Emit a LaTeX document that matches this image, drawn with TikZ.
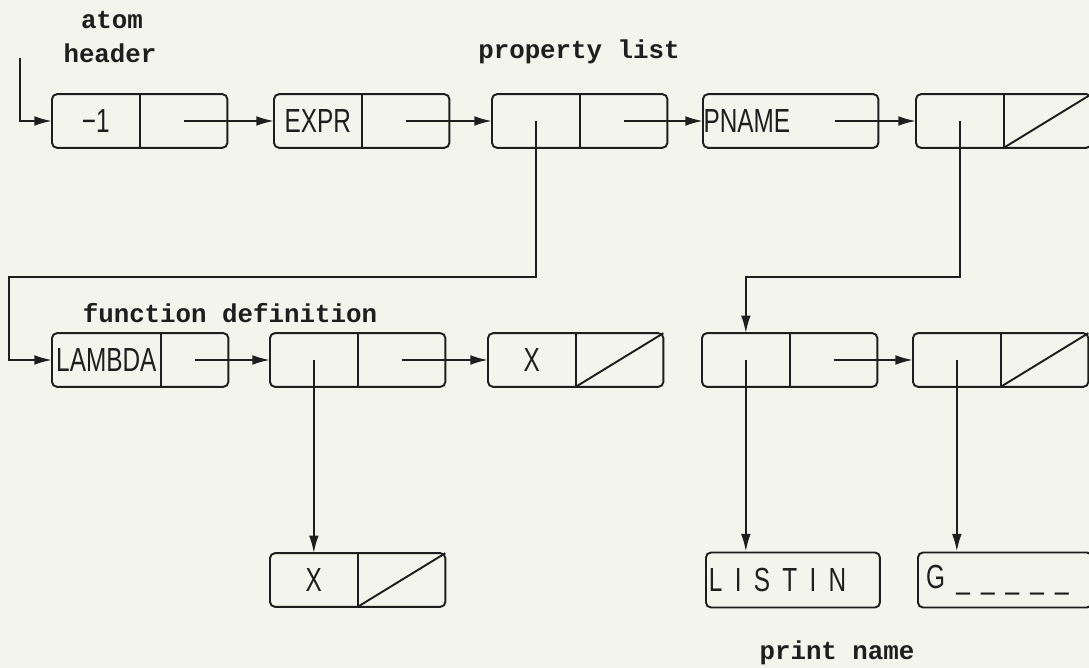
\documentclass[tikz,border=0pt]{standalone}
\usepackage{fontspec}
\usepackage{xcolor}
\usetikzlibrary{arrows.meta,positioning}

\newfontfamily\cellfont[FakeStretch=0.73]{Liberation Sans}
\newfontfamily\tagfont{Liberation Mono}
\definecolor{paper}{RGB}{243,244,235}
\definecolor{ink}{RGB}{30,30,30}

\tikzset{
  car/.style={minimum width=1.74cm, minimum height=1.06cm, inner sep=0pt,
    text=ink, font={\cellfont\fontsize{19}{19}\selectfont}},
  cell/.style={draw=ink, line width=1.1pt, rounded corners=0.1cm},
  word/.style={draw=ink, line width=1.1pt, rounded corners=0.1cm,
    minimum height=1.1cm, text width=3.36cm, inner xsep=0.06cm, align=left,
    text=ink, font={\cellfont\fontsize{19}{19}\selectfont}},
  ptr/.style={draw=ink, line width=1.1pt, -{Latex[length=10pt,width=5.5pt]}},
  tag/.style={text=ink, font={\tagfont\bfseries\fontsize{14.7}{16}\selectfont}}
}

\begin{document}
\begin{tikzpicture}[x=0.02cm, y=-0.02cm]
  \clip (0,0) rectangle (1089,668);
  \fill[paper] (0,0) rectangle (1089,668);

  % labels
  \node[tag] (atomlbl) at (112,20) {atom};
  \node[tag] (hdrlbl) at (110,53) {header};
  \node[tag] (proplbl) at (579,52) {property list};
  \node[tag] (funlbl) at (230,313) {function definition};
  \node[tag] (printlbl) at (837,653) {print name};

  % atom row
  \node[car, anchor=west] (a1) at (52,121) {−1};
  \node[car, right=0pt of a1] (d1) {};
  \node[car, anchor=west] (a2) at (274,121) {EXPR};
  \node[car, right=0pt of a2] (d2) {};
  \node[car, anchor=west] (a3) at (492,121) {};
  \node[car, right=0pt of a3] (d3) {};
  \node[car, anchor=west] (a4) at (703,121) {PNAME};
  \node[car, right=0pt of a4] (d4) {};
  \node[car, anchor=west] (a5) at (916,121) {};
  \node[car, right=0pt of a5] (d5) {};

  \draw[cell] (a1.north west) rectangle (d1.south east);
  \draw[cell] (a2.north west) rectangle (d2.south east);
  \draw[cell] (a3.north west) rectangle (d3.south east);
  \draw[cell] (a4.north west) rectangle (d4.south east);
  \draw[cell] (a5.north west) rectangle (d5.south east);
  \draw[cell] (a1.north east) -- (a1.south east);
  \draw[cell] (a2.north east) -- (a2.south east);
  \draw[cell] (a3.north east) -- (a3.south east);
  \draw[cell] (a5.north east) -- (a5.south east);
  \draw[cell] (d5.south west) -- (d5.north east);

  % function definition row
  \node[car, anchor=west, minimum width=2.16cm] (b1) at (52,360) {LAMBDA};
  \node[car, right=0pt of b1, minimum width=1.34cm] (e1) {};
  \node[car, anchor=west] (b2) at (270,360) {};
  \node[car, right=0pt of b2] (e2) {};
  \node[car, anchor=west] (b3) at (488,360) {X};
  \node[car, right=0pt of b3] (e3) {};
  \node[car, anchor=west] (b4) at (702,360) {};
  \node[car, right=0pt of b4] (e4) {};
  \node[car, anchor=west] (b5) at (913,360) {};
  \node[car, right=0pt of b5] (e5) {};

  \draw[cell] (b1.north west) rectangle (e1.south east);
  \draw[cell] (b2.north west) rectangle (e2.south east);
  \draw[cell] (b3.north west) rectangle (e3.south east);
  \draw[cell] (b4.north west) rectangle (e4.south east);
  \draw[cell] (b5.north west) rectangle (e5.south east);
  \draw[cell] (b1.north east) -- (b1.south east);
  \draw[cell] (b2.north east) -- (b2.south east);
  \draw[cell] (b3.north east) -- (b3.south east);
  \draw[cell] (b4.north east) -- (b4.south east);
  \draw[cell] (b5.north east) -- (b5.south east);
  \draw[cell] (e3.south west) -- (e3.north east);
  \draw[cell] (e5.south west) -- (e5.north east);

  % bottom row
  \node[car, anchor=west] (c1) at (270,580) {X};
  \node[car, right=0pt of c1] (f1) {};
  \draw[cell] (c1.north west) rectangle (f1.south east);
  \draw[cell] (c1.north east) -- (c1.south east);
  \draw[cell] (f1.south west) -- (f1.north east);
  \node[word, anchor=west] (c2) at (705,580) {L\hspace{7pt}I\hspace{7pt}S\hspace{7pt}T\hspace{7pt}I\hspace{7pt}N};
  \node[word, anchor=west] (c3) at (917,580) {\mbox{\hspace{3pt}G\ \_\ \_\ \_\ \_\ \_}};

  % pointers
  \coordinate (hdr) at (20,58);
  \coordinate (lturn) at (9,277);
  \coordinate (rturn) at (b4.north |- lturn);
  \draw[ptr] (hdr) |- (a1.west);
  \draw[ptr] (d1.center) -- (a2.west);
  \draw[ptr] (d2.center) -- (a3.west);
  \draw[ptr] (d3.center) -- (a4.west);
  \draw[ptr] (d4.center) -- (a5.west);
  \draw[ptr] (a3.center) |- (lturn) |- (b1.west);
  \draw[ptr] (a5.center) |- (rturn) -- (b4.north);
  \draw[ptr] (e1.center) -- (b2.west);
  \draw[ptr] (e2.center) -- (b3.west);
  \draw[ptr] (e4.center) -- (b5.west);
  \draw[ptr] (b2.center) -- (b2.center |- c1.north);
  \draw[ptr] (b4.center) -- (b4.center |- c2.north);
  \draw[ptr] (b5.center) -- (b5.center |- c3.north);
\end{tikzpicture}
\end{document}
